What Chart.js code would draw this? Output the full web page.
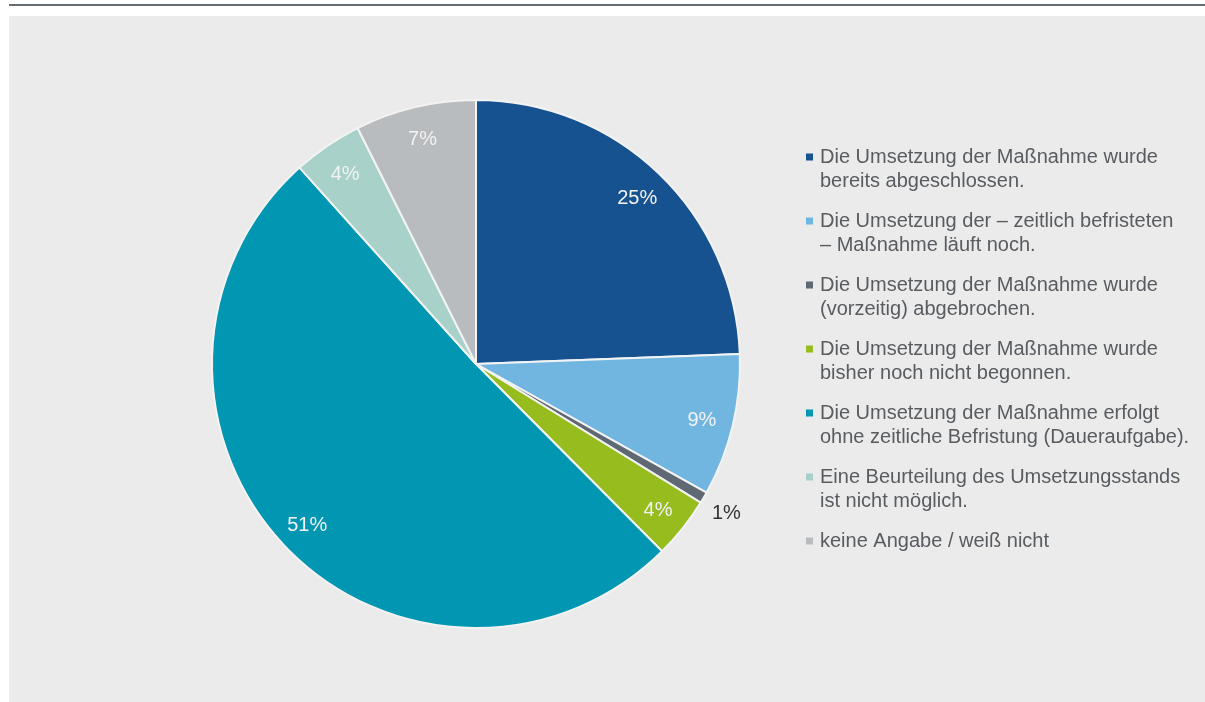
<!DOCTYPE html>
<html>
<head>
<meta charset="utf-8">
<script src="https://cdn.jsdelivr.net/npm/chart.js@4.4.1/dist/chart.umd.min.js"></script>
<style>
  html, body { margin: 0; padding: 0; background: #ffffff; width: 1205px; height: 702px; overflow: hidden; }
  #topline { position: absolute; left: 9px; top: 4px; width: 1196px; height: 2px; background: #646b71; }
  #panel { position: absolute; left: 9px; top: 16px; width: 1196px; height: 686px; background: #ebebeb; }
  #panel canvas { display: block; }
</style>
</head>
<body>
<div id="topline"></div>
<div id="panel"><canvas id="c" width="1196" height="686"></canvas></div>
<script>
// ---- data ----
const categories = [
  ['Die Umsetzung der Maßnahme wurde', 'bereits abgeschlossen.'],
  ['Die Umsetzung der – zeitlich befristeten', '– Maßnahme läuft noch.'],
  ['Die Umsetzung der Maßnahme wurde', '(vorzeitig) abgebrochen.'],
  ['Die Umsetzung der Maßnahme wurde', 'bisher noch nicht begonnen.'],
  ['Die Umsetzung der Maßnahme erfolgt', 'ohne zeitliche Befristung (Daueraufgabe).'],
  ['Eine Beurteilung des Umsetzungsstands', 'ist nicht möglich.'],
  ['keine Angabe / weiß nicht']
];
const values = [24.4, 8.7, 0.7, 3.75, 50.8, 4.25, 7.4];
const percentLabels = ['25%', '9%', '1%', '4%', '51%', '4%', '7%'];
const colors = ['#165190', '#70b6e1', '#5f6973', '#96bc1e', '#0196b1', '#a7d1c9', '#b8bcbf'];

const FONT = '"Liberation Sans", Arial, sans-serif';

const labelPlugin = {
  id: 'sliceLabels',
  afterDatasetsDraw(chart) {
    const ctx = chart.ctx;
    const meta = chart.getDatasetMeta(0);
    ctx.save();
    ctx.font = '20px ' + FONT;
    ctx.textAlign = 'center';
    ctx.textBaseline = 'middle';
    meta.data.forEach((arc, i) => {
      const p = arc.getProps(['x', 'y', 'startAngle', 'endAngle', 'outerRadius'], true);
      const mid = (p.startAngle + p.endAngle) / 2;
      const small = values[i] < 2;
      const r = small ? p.outerRadius * 1.1 : p.outerRadius * 0.88;
      const x = p.x + Math.cos(mid) * r;
      const y = p.y + Math.sin(mid) * r;
      ctx.fillStyle = small ? '#333333' : '#f2f2f2';
      ctx.fillText(percentLabels[i], x, y + 2);
    });
    ctx.restore();
  }
};

const legendPlugin = {
  id: 'sideLegend',
  afterDraw(chart) {
    const ctx = chart.ctx;
    ctx.save();
    ctx.font = '20px ' + FONT;
    ctx.textAlign = 'left';
    ctx.textBaseline = 'middle';
    const x0 = 797;     // square left (canvas coords)
    const tx = 811;     // text left
    let y = 141;        // first line centre
    categories.forEach((lines, i) => {
      ctx.fillStyle = colors[i];
      ctx.fillRect(x0, y - 3.5, 7, 7);
      ctx.fillStyle = '#585c60';
      lines.forEach((ln, j) => {
        ctx.fillText(ln, tx, y + j * 24);
      });
      y += 64;
    });
    ctx.restore();
  }
};

new Chart(document.getElementById('c'), {
  type: 'pie',
  data: {
    labels: categories.map(l => l.join(' ')),
    datasets: [{
      data: values,
      backgroundColor: colors,
      borderColor: '#f3f3f3',
      borderWidth: 2
    }]
  },
  options: {
    responsive: false,
    animation: false,
    layout: { padding: { left: 202, top: 83, right: 464, bottom: 73 } },
    plugins: {
      legend: { display: false },
      tooltip: { enabled: false }
    }
  },
  plugins: [labelPlugin, legendPlugin]
});
</script>
</body>
</html>
